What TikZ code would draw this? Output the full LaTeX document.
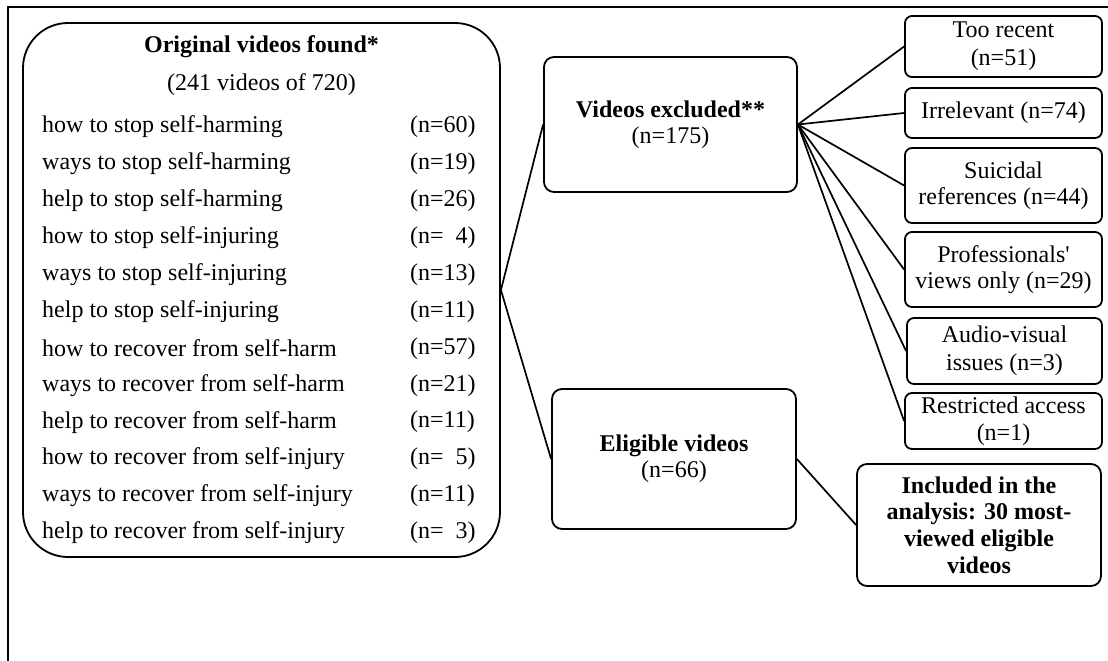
\documentclass[tikz,border=0pt]{standalone}
\usepackage{fontspec}
\setmainfont{Liberation Serif}
\begin{document}
\begin{tikzpicture}[x=1pt,y=-1pt,
    every node/.style={font=\fontsize{24}{26}\selectfont},
    box/.style={draw,line width=1.8pt,rounded corners=7pt,align=center,inner sep=0pt},
    side/.style={box,minimum width=197pt},
    row/.style={anchor=west,inner sep=0pt},
    link/.style={line width=1.7pt}]
        \useasboundingbox (0,0) rectangle (1108,661);
        \draw [line width=2.2pt] (1108,7)--(8,7)--(8,661);
        \node [box,rounded corners=45pt,minimum width=477pt,minimum height=534pt] (orig) at (261.5,290) {};
        \node (origtitle) at (261.5,47) {\textbf{Original videos found*}};
        \node (origcount) at (261.5,85) {(241 videos of 720)};
        \foreach \q/\n [count=\i] in {how to stop self-harming/60,ways to stop self-harming/19,help to stop self-harming/26,how to stop self-injuring/{\hphantom{0}4},ways to stop self-injuring/13,help to stop self-injuring/11,how to recover from self-harm/57,ways to recover from self-harm/21,help to recover from self-harm/11,how to recover from self-injury/{\hphantom{0}5},ways to recover from self-injury/11,help to recover from self-injury/{\hphantom{0}3}}
        {
            \node [row] (q\i) at (42,{127+36.9*(\i-1)}) {\q};
            \node [row] (n\i) at (410,{127+36.9*(\i-1)}) {(n=\n)};
        }
        \node [box,rounded corners=10pt,minimum width=253pt,minimum height=135pt] (excl) at (670.5,124.5) {\textbf{Videos excluded**}\\(n=175)};
        \node [box,rounded corners=10pt,minimum width=244pt,minimum height=140pt] (elig) at (674,459) {\textbf{Eligible videos}\\(n=66)};
        \node [side,minimum height=61pt,font=\fontsize{24}{28}\selectfont] (recent) at (1003.5,46.5) {Too recent\\(n=51)};
        \node [side,minimum height=50pt] (irrel) at (1003.5,113) {Irrelevant (n=74)};
        \node [side,minimum height=75pt] (suic) at (1003.5,185.5) {Suicidal\\references (n=44)};
        \node [side,minimum height=75pt] (prof) at (1003.5,269.5) {Professionals\textquotesingle\\views only (n=29)};
        \node [side,minimum width=195pt,minimum height=66pt,font=\fontsize{24}{28}\selectfont] (audio) at (1004.5,351) {Audio-visual\\issues (n=3)};
        \node [side,minimum height=56pt,font=\fontsize{24}{27}\selectfont] (restr) at (1003.5,421) {Restricted access\\(n=1)};
        \node [box,rounded corners=10pt,minimum width=244pt,minimum height=122pt,font=\fontsize{24}{26.7}\selectfont\bfseries] (incl) at (979,525) {Included in the\\analysis: 30 most-\\viewed eligible\\videos};
        \draw [link] (orig.east)--(excl.west);
        \draw [link] (orig.east)--(elig.west);
        \foreach \t in {recent,irrel,suic,prof,audio,restr}
            \draw [link] (excl.east)--(\t.west);
        \draw [link] (elig.east)--(incl.west);
    \end{tikzpicture}
\end{document}
